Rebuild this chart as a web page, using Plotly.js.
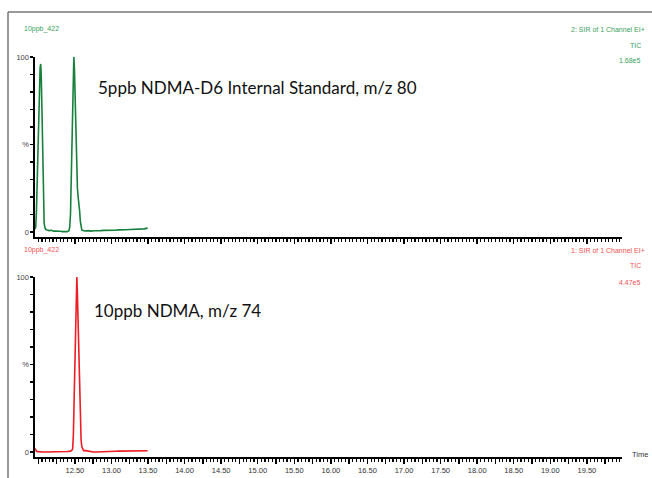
<!DOCTYPE html>
<html>
<head>
<meta charset="utf-8">
<script src="https://cdn.plot.ly/plotly-3.0.1.min.js"></script>
<style>html,body{margin:0;padding:0;background:#fff;}#chart{width:652px;height:478px;}</style>
</head>
<body>
<div id="chart"></div>
<script>
// ---- Data (retention time in minutes, relative intensity %) ----
var greenTime = [11.955,11.965,11.975,11.985,11.995,12.005,12.015,12.025,12.033,12.04,12.05,12.06,12.07,12.08,12.09,12.10,12.12,12.15,12.18,12.21,12.24,12.27,12.30,12.33,12.36,12.39,12.42,12.43,12.44,12.45,12.46,12.47,12.48,12.486,12.495,12.505,12.515,12.525,12.535,12.545,12.555,12.565,12.575,12.585,12.595,12.61,12.64,12.68,12.72,12.76,12.80,12.85,12.90,12.95,13.00,13.05,13.10,13.15,13.20,13.25,13.30,13.35,13.40,13.45,13.48,13.495];
var greenIntensity = [1.5,3,12,30,52,72,86,94,96,90,70,40,15,5,2.5,1.5,1.2,0.8,1.0,0.5,0.6,0.3,0.4,0.2,0.0,0.2,0.8,3,10,28,55,80,96,100,92,72,50,33,25,20,17,12,6,2.5,1.2,0.8,0.6,0.8,0.5,0.7,0.6,0.8,0.9,0.8,1.0,1.0,1.2,1.1,1.3,1.4,1.5,1.5,1.7,1.8,2.2,2.0];

var redTime = [11.955,11.965,11.975,11.99,12.02,12.06,12.10,12.15,12.20,12.25,12.30,12.35,12.40,12.44,12.46,12.47,12.48,12.49,12.50,12.51,12.52,12.527,12.535,12.545,12.555,12.565,12.575,12.585,12.595,12.605,12.62,12.65,12.68,12.70,12.75,12.80,12.85,12.90,12.95,13.00,13.05,13.10,13.15,13.20,13.25,13.30,13.35,13.40,13.45,13.495];
var redIntensity = [2.0,1.2,0.5,0.2,0,0,0,0,0,0,0,0.1,0.3,0.5,1.0,2,10,30,55,80,97,100,90,70,50,32,17,7,3,1.5,0.8,0.8,0.6,0.2,0,0,0,0,0,0.3,0.4,0.5,0.5,0.4,0.5,0.6,0.5,0.6,0.6,0.7];

var xTickVals = [12.00,12.25,12.50,12.75,13.00,13.25,13.50,13.75,14.00,14.25,14.50,14.75,15.00,15.25,15.50,15.75,16.00,16.25,16.50,16.75,17.00,17.25,17.50,17.75,18.00,18.25,18.50,18.75,19.00,19.25,19.50,19.75];
var xTickText = ['','','12.50','','13.00','','13.50','','14.00','','14.50','','15.00','','15.50','','16.00','','16.50','','17.00','','17.50','','18.00','','18.50','','19.00','','19.50',''];
var yTickVals = [0,50,100];
var yTickText = ['0','%','100'];

var greenLine = '#17803b', greenText = '#3aa05e';
var redLine = '#ee1c24', redText = '#f25050';

var traces = [
  {x: greenTime, y: greenIntensity, xaxis: 'x2', yaxis: 'y2', mode: 'lines', line: {color: greenLine, width: 1.6}, hoverinfo: 'skip'},
  {x: redTime, y: redIntensity, xaxis: 'x', yaxis: 'y', mode: 'lines', line: {color: redLine, width: 1.6}, hoverinfo: 'skip'}
];

var H = 478, W = 652;
function py(p){ return 1 - p / H; }
function px(p){ return p / W; }

var xCommon = {
  range: [11.955, 19.98], domain: [px(35), px(622)],
  showline: true, linecolor: '#000', linewidth: 2, showgrid: false, zeroline: false,
  ticks: 'outside', ticklen: 5, tickwidth: 1.4, tickcolor: '#000',
  tickmode: 'array', tickvals: xTickVals, ticktext: xTickText,
  minor: {dtick: 0.05, tick0: 12.0, ticks: 'outside', ticklen: 3, tickwidth: 1.2, tickcolor: '#000', showgrid: false},
  tickfont: {family: 'Liberation Sans, Arial', size: 7.5, color: '#333'}
};
var yCommon = {
  range: [-2.86, 100],
  showline: true, linecolor: '#000', linewidth: 1.6, showgrid: false, zeroline: false,
  ticks: 'outside', ticklen: 3, tickwidth: 1.2, tickcolor: '#000',
  tickmode: 'array', tickvals: yTickVals, ticktext: yTickText,
  minor: {dtick: 10, tick0: 0, ticks: 'outside', ticklen: 3, tickwidth: 1.2, tickcolor: '#000', showgrid: false},
  tickfont: {family: 'Liberation Sans, Arial', size: 7.5, color: '#444'}
};

function ann(text, x, y, anchor, color, size, family){
  return {text: text, x: px(x), y: py(y), xref: 'paper', yref: 'paper', xanchor: anchor, yanchor: 'middle',
          showarrow: false, font: {family: family || 'Liberation Sans, Arial', size: size || 7, color: color}};
}

var layout = {
  width: W, height: H, margin: {l: 0, r: 0, t: 0, b: 0},
  paper_bgcolor: '#fff', plot_bgcolor: '#fff', showlegend: false,
  xaxis: Object.assign({}, xCommon, {anchor: 'y', showticklabels: true}),
  xaxis2: Object.assign({}, xCommon, {anchor: 'y2', matches: 'x', showticklabels: false}),
  yaxis: Object.assign({}, yCommon, {domain: [py(457), py(277)], anchor: 'x'}),
  yaxis2: Object.assign({}, yCommon, {domain: [py(237), py(57)], anchor: 'x2'}),
  shapes: [
    {type: 'line', xref: 'paper', yref: 'paper', x0: px(8), x1: px(8), y0: 0, y1: py(12), line: {color: '#777', width: 1.5}},
    {type: 'line', xref: 'paper', yref: 'paper', x0: px(8), x1: 1, y0: py(12), y1: py(12), line: {color: '#777', width: 1.5}}
  ],
  annotations: [
    ann('10ppb_422', 22, 29, 'left', greenText),
    ann('2: SIR of 1 Channel EI+', 647, 29, 'right', greenText),
    ann('TIC', 643, 45, 'right', greenText),
    ann('1.68e5', 643, 61, 'right', greenText),
    ann('10ppb_422', 22, 250, 'left', redText),
    ann('1: SIR of 1 Channel EI+', 647, 250, 'right', redText),
    ann('TIC', 643, 265, 'right', redText),
    ann('4.47e5', 643, 282, 'right', redText),
    ann('Time', 630, 454, 'left', '#333', 7.5),
    ann('5ppb NDMA-D6 Internal Standard, m/z 80', 96, 87, 'left', '#111', 17, 'Lato, Open Sans, sans-serif'),
    ann('10ppb NDMA, m/z 74', 92, 310, 'left', '#111', 17, 'Lato, Open Sans, sans-serif')
  ]
};

Plotly.newPlot('chart', traces, layout, {displayModeBar: false, staticPlot: true});
</script>
</body>
</html>
